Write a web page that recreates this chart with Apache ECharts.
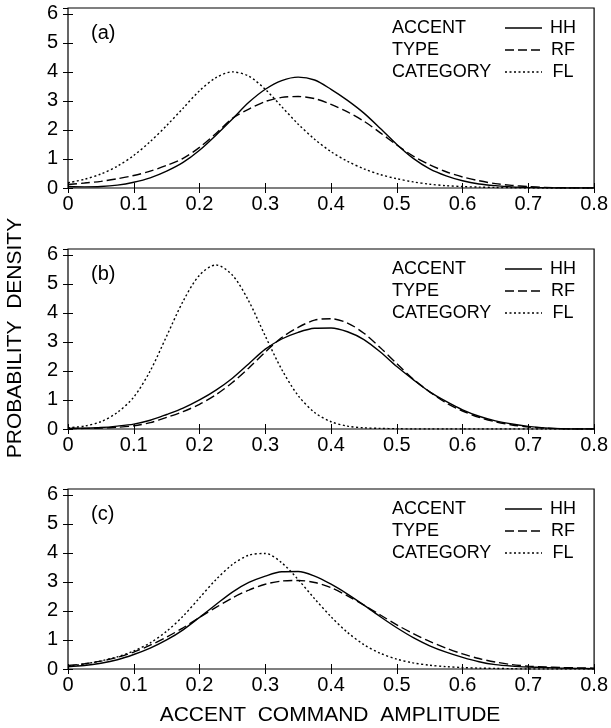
<!DOCTYPE html>
<html>
<head>
<meta charset="utf-8">
<title>Accent command amplitude</title>
<script src="https://cdn.jsdelivr.net/npm/echarts@6/dist/echarts.min.js"></script>
<style>
html, body { margin: 0; background: #fff; }
#main { width: 611px; height: 728px; }
</style>
</head>
<body>
<div id="main"></div>
<script>
// x positions of the samples (accent command amplitude)
var amplitude = [0, 0.025, 0.05, 0.075, 0.1, 0.125, 0.15, 0.175, 0.2, 0.225, 0.25, 0.275, 0.3, 0.325, 0.35, 0.375,
    0.4, 0.425, 0.45, 0.475, 0.5, 0.525, 0.55, 0.575, 0.6, 0.625, 0.65, 0.675, 0.7, 0.725, 0.75, 0.775, 0.8];

// panel (a)
var hhA = [0.05, 0.04, 0.05, 0.1, 0.2, 0.35, 0.58, 0.88, 1.3, 1.82, 2.38, 2.95, 3.4, 3.7, 3.82, 3.72,
    3.4, 3.02, 2.58, 2.05, 1.5, 1.02, 0.66, 0.42, 0.25, 0.14, 0.08, 0.04, 0.02, 0.01, 0, 0, 0];
var rfA = [0.12, 0.17, 0.23, 0.32, 0.43, 0.58, 0.78, 1.02, 1.4, 1.88, 2.4, 2.72, 2.98, 3.12, 3.15, 3.08,
    2.88, 2.62, 2.3, 1.9, 1.48, 1.1, 0.8, 0.56, 0.38, 0.25, 0.15, 0.09, 0.05, 0.02, 0.01, 0, 0];
var flA = [0.18, 0.3, 0.48, 0.75, 1.12, 1.6, 2.15, 2.75, 3.35, 3.8, 4.0, 3.85, 3.4, 2.8, 2.2, 1.68,
    1.25, 0.92, 0.66, 0.46, 0.32, 0.21, 0.13, 0.08, 0.05, 0.03, 0.02, 0.01, 0, 0, 0, 0, 0];

// panel (b)
var hhB = [0.02, 0.03, 0.05, 0.1, 0.17, 0.3, 0.5, 0.72, 1.0, 1.34, 1.75, 2.25, 2.75, 3.1, 3.33, 3.47,
    3.48, 3.35, 3.08, 2.65, 2.15, 1.7, 1.28, 0.95, 0.66, 0.44, 0.28, 0.17, 0.09, 0.04, 0.01, 0, 0];
var rfB = [0.01, 0.02, 0.03, 0.06, 0.11, 0.22, 0.4, 0.6, 0.85, 1.18, 1.6, 2.1, 2.65, 3.15, 3.5, 3.75,
    3.8, 3.65, 3.3, 2.8, 2.25, 1.72, 1.28, 0.9, 0.62, 0.4, 0.25, 0.14, 0.07, 0.03, 0.01, 0, 0];
var flB = [0.04, 0.1, 0.25, 0.57, 1.1, 2.0, 3.2, 4.4, 5.3, 5.65, 5.3, 4.4, 3.2, 2.05, 1.15, 0.57,
    0.25, 0.1, 0.04, 0.02, 0.01, 0, 0, 0, 0, 0, 0, 0, 0, 0, 0, 0, 0];

// panel (c)
var hhC = [0.08, 0.12, 0.2, 0.32, 0.5, 0.72, 1.0, 1.35, 1.78, 2.22, 2.65, 2.98, 3.2, 3.35, 3.36, 3.2,
    2.92, 2.58, 2.2, 1.8, 1.42, 1.08, 0.8, 0.58, 0.4, 0.25, 0.15, 0.1, 0.07, 0.05, 0.03, 0.02, 0.01];
var rfC = [0.12, 0.18, 0.27, 0.4, 0.58, 0.82, 1.1, 1.42, 1.78, 2.12, 2.45, 2.72, 2.92, 3.03, 3.05, 2.98,
    2.8, 2.52, 2.2, 1.86, 1.52, 1.22, 0.95, 0.72, 0.52, 0.36, 0.24, 0.15, 0.1, 0.07, 0.05, 0.04, 0.03];
var flC = [0.1, 0.17, 0.28, 0.42, 0.62, 0.9, 1.3, 1.82, 2.45, 3.08, 3.6, 3.92, 3.98, 3.66, 3.08, 2.42,
    1.8, 1.26, 0.84, 0.54, 0.34, 0.21, 0.13, 0.08, 0.05, 0.03, 0.02, 0.01, 0, 0, 0, 0, 0];

var panelTags = ['(a)', '(b)', '(c)'];
var accentTypes = ['HH', 'RF', 'FL'];
var legendWords = ['ACCENT', 'TYPE', 'CATEGORY'];
var panelData = [[hhA, rfA, flA], [hhB, rfB, flB], [hhC, rfC, flC]];

var font = 'Liberation Sans, Arial, sans-serif';
var panelTop = [8, 249, 489];
var plotLeft = 68, plotWidth = 527, plotHeight = 180;
var dashes = ['solid', [9, 4], [2, 2.5]];

function pairs(ys) {
    var out = [];
    for (var i = 0; i < ys.length; i++) out.push([amplitude[i], ys[i]]);
    return out;
}

var grids = [], xAxes = [], yAxes = [], series = [], graphics = [];

for (var p = 0; p < 3; p++) {
    grids.push({
        left: plotLeft, top: panelTop[p], width: plotWidth, height: plotHeight,
        show: true, borderColor: '#000', borderWidth: 1.2, backgroundColor: 'transparent'
    });
    [['bottom', true], ['top', false]].forEach(function (s) {
        xAxes.push({
            gridIndex: p, type: 'value', position: s[0], min: 0, max: 0.8, interval: 0.1,
            axisLine: { show: false },
            axisTick: { inside: true, length: 5, lineStyle: { color: '#000', width: 1 } },
            axisLabel: { show: s[1], color: '#000', fontSize: 20, fontFamily: font, margin: 6 },
            splitLine: { show: false }
        });
    });
    [['left', true], ['right', false]].forEach(function (s) {
        yAxes.push({
            gridIndex: p, type: 'value', position: s[0], min: 0, max: 6.2, interval: 1,
            axisLine: { show: false },
            axisTick: { inside: true, length: 5, lineStyle: { color: '#000', width: 1 } },
            axisLabel: { show: s[1], showMaxLabel: false, color: '#000', fontSize: 20, fontFamily: font, margin: 10 },
            splitLine: { show: false }
        });
    });
    for (var k = 0; k < 3; k++) {
        series.push({
            type: 'line', name: accentTypes[k] + ' ' + panelTags[p],
            xAxisIndex: p * 2, yAxisIndex: p * 2,
            data: pairs(panelData[p][k]),
            smooth: 0.3, showSymbol: false, silent: true,
            lineStyle: { color: '#000', width: 1.4, type: dashes[k] }
        });
    }

    var y0 = panelTop[p];
    graphics.push({
        type: 'text', x: 91, y: y0 + 25,
        style: { text: panelTags[p], font: '20px ' + font, fill: '#000', textVerticalAlign: 'middle' }
    });
    for (var r = 0; r < 3; r++) {
        var cy = y0 + 20 + r * 22;
        graphics.push({
            type: 'text', x: 392, y: cy,
            style: { text: legendWords[r], font: '18px ' + font, fill: '#000', textVerticalAlign: 'middle' }
        });
        graphics.push({
            type: 'line', shape: { x1: 505, y1: cy, x2: 542, y2: cy },
            style: { stroke: '#000', lineWidth: 1.4, lineDash: dashes[r] === 'solid' ? null : dashes[r] }
        });
        graphics.push({
            type: 'text', x: 563, y: cy,
            style: { text: accentTypes[r], font: '18px ' + font, fill: '#000', textAlign: 'center', textVerticalAlign: 'middle' }
        });
    }
}

graphics.push({
    type: 'text', x: 15, y: 338, rotation: Math.PI / 2,
    style: { text: 'PROBABILITY  DENSITY', font: '21px ' + font, fill: '#000', textAlign: 'center', textVerticalAlign: 'middle' }
});
graphics.push({
    type: 'text', x: 330, y: 715,
    style: { text: 'ACCENT  COMMAND  AMPLITUDE', font: '21px ' + font, fill: '#000', textAlign: 'center', textVerticalAlign: 'middle' }
});

var chart = echarts.init(document.getElementById('main'));
chart.setOption({
    animation: false,
    backgroundColor: '#fff',
    grid: grids,
    xAxis: xAxes,
    yAxis: yAxes,
    series: series,
    graphic: graphics
});
</script>
</body>
</html>
